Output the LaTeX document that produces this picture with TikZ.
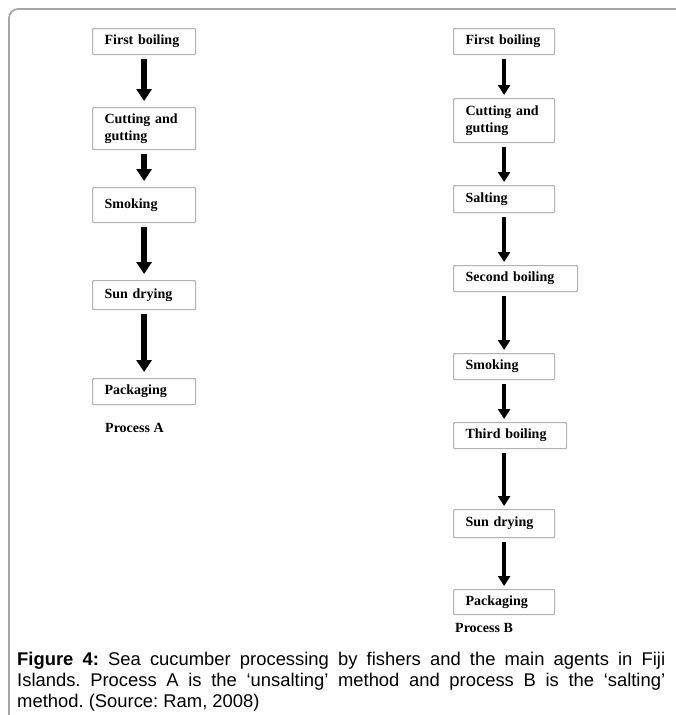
\documentclass[tikz,border=0pt]{standalone}
\usepackage{fontspec}
\setmainfont{Liberation Serif}
\newfontfamily\captionfont{Liberation Sans}
\usetikzlibrary{arrows.meta,positioning}

\begin{document}
\begin{tikzpicture}[x=1pt,y=-1pt,
  stage/.style={draw=gray!60,line width=1.2pt,rounded corners=1pt,anchor=north west,inner xsep=12pt,inner ysep=2pt,minimum height=26pt,text width=79pt,align=left,font=\bfseries\fontsize{14}{16.5}\selectfont},
  stageb/.style={stage,text width=77pt},
  blank/.style={anchor=west,inner sep=0pt,font=\bfseries\fontsize{14}{16}\selectfont},
  edge/.style={line width=6pt,-{Triangle[width=15pt,length=12pt]},shorten <=4pt,shorten >=6pt},
  thinedge/.style={line width=4pt,-{Triangle[width=12pt,length=10pt]},shorten <=4pt,shorten >=3pt}]
\useasboundingbox (0,0) rectangle (676,715);

% frame
\draw[gray!70,line width=1.8pt,rounded corners=9pt] (676,9) -- (9,9) -- (9,715);

% process A
\node (A1)[stage] at (92,28) {First boiling};
\node (A2)[stage,minimum height=42pt] at (92,107) {Cutting and\\gutting};
\node (A3)[stage,minimum height=35pt] at (92,187) {Smoking};
\node (A4)[stage,minimum height=29pt] at (92,280) {Sun drying};
\node (A5)[stage] at (92,378) {Packaging};
\node (PA)[blank] at (105,428) {Process A};

% process B
\node (B1)[stageb] at (453,28) {First boiling};
\node (B2)[stageb,minimum height=44pt] at (453,98) {Cutting and\\gutting};
\node (B3)[stageb,minimum height=27pt] at (453,185) {Salting};
\node (B4)[stage,text width=100pt] at (453,265) {Second boiling};
\node (B5)[stageb] at (453,353) {Smoking};
\node (B6)[stage,text width=89pt] at (453,422) {Third boiling};
\node (B7)[stageb,minimum height=28pt] at (453,509) {Sun drying};
\node (B8)[stageb,minimum height=25pt] at (453,589) {Packaging};
\node (PB)[blank] at (455,628) {Process B};

\draw [edge] (A1.south) -- (A2.north);
\draw [edge] (A2.south) -- (A3.north);
\draw [edge] (A3.south) -- (A4.north);
\draw [edge] (A4.south) -- (A5.north);

\draw [thinedge] (B1.south) -- (B2.north);
\draw [thinedge] (B2.south) -- (B3.north);
\draw [thinedge] (B3.south) -- (B3.south |- B4.north);
\draw [thinedge] (B4.south -| B3.south) -- (B5.north);
\draw [thinedge] (B5.south) -- (B5.south |- B6.north);
\draw [thinedge] (B6.south -| B5.south) -- (B7.north);
\draw [thinedge] (B7.south) -- (B8.north);

% caption
\node (cap)[anchor=north west,inner sep=0pt,text width=648pt,align=justify,font=\captionfont\fontsize{18.4}{20.8}\selectfont\frenchspacing] at (17,652)
  {\textbf{Figure 4:} Sea cucumber processing by fishers and the main agents in Fiji\linebreak Islands. Process A is the ‘unsalting’ method and process B is the ‘salting’\linebreak method. (Source: Ram, 2008)};
\end{tikzpicture}
\end{document}
